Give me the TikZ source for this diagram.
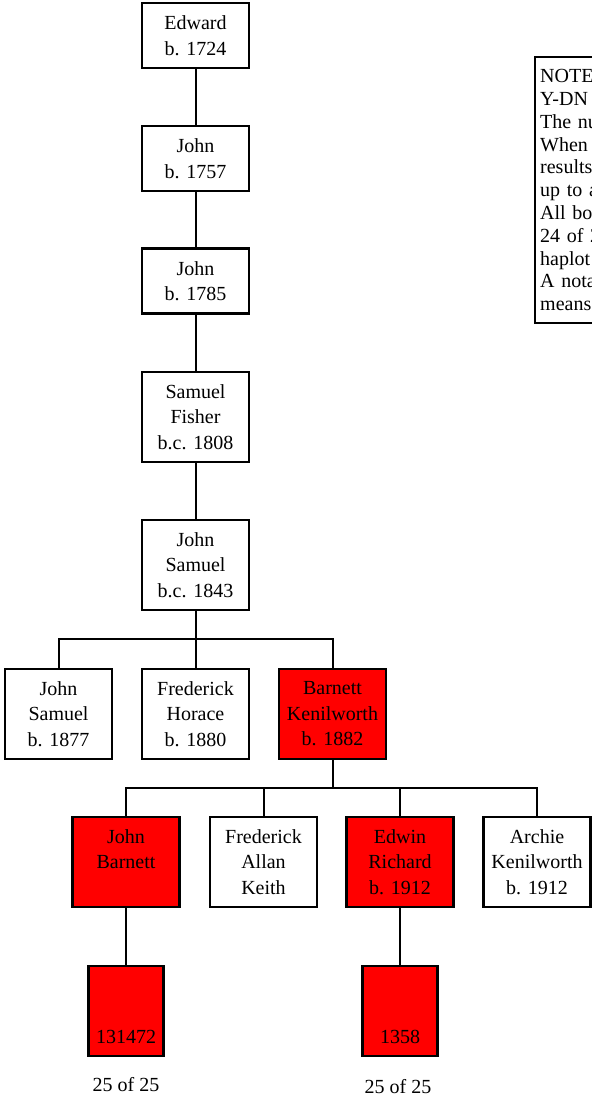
\documentclass[tikz,border=0pt]{standalone}
\usepackage{fontspec}
\setmainfont{Liberation Serif}

\tikzset{
    person/.style={draw, line width=1.2pt, align=center, inner sep=0pt,
        minimum width=53.5pt, font=\fontsize{10}{12.75}\selectfont},
    short/.style={person, minimum height=32.5pt},
    tall/.style={person, minimum height=45pt},
    tested/.style={fill=red},
    kit/.style={tall, tested, minimum width=37.5pt},
    match/.style={anchor=base, inner sep=0pt, font=\fontsize{10}{12}\selectfont},
    notebox/.style={draw, line width=1.2pt, anchor=north west, align=left,
        text width=140pt, minimum height=133pt, inner sep=2.5pt,
        font=\fontsize{10}{11.4}\selectfont},
    link/.style={line width=1pt},
}
\newcommand{\blankline}{\phantom{b. 1912}}

\begin{document}
\begin{tikzpicture}[x=0.5pt, y=-0.5pt]

        \useasboundingbox (0,0) rectangle (592,1097);

            % direct line
            \node[short] (edward) at (195.5,35.5) {Edward\\b. 1724};
            \node[short] (john1) at (195.5,158.5) {John\\b. 1757};
            \node[short] (john2) at (195.5,281) {John\\b. 1785};
            \node[tall] (samuel) at (195.5,417) {Samuel\\Fisher\\b.c. 1808};
            \node[tall] (jsamuel) at (195.5,565) {John\\Samuel\\b.c. 1843};

            % sons
            \node[tall] (jsamuel2) at (58.5,714) {John\\Samuel\\b. 1877};
            \node[tall] (frederick) at (195.5,714) {Frederick\\Horace\\b. 1880};
            \node[tall, tested] (barnett) at (332.5,714) {Barnett\\Kenilworth\\b. 1882};

            % grandsons
            \node[tall, tested] (jbarnett) at (126,862) {John\\Barnett\\\blankline};
            \node[tall] (fallan) at (263.5,862) {Frederick\\Allan\\Keith};
            \node[tall, tested] (edwin) at (400,862) {Edwin\\Richard\\b. 1912};
            \node[tall] (archie) at (537,862) {Archie\\Kenilworth\\b. 1912};

            % kits
            \node[kit] (kitA) at (126,1011) {\blankline\\\blankline\\131472};
            \node[kit] (kitB) at (400,1011) {\blankline\\\blankline\\1358};
            \node[match] (matchA) at (126,1091) {25 of 25};
            \node[match] (matchB) at (398,1093) {25 of 25};

            \node[notebox] (note) at (534,56) {NOTE\\Y-DN\\The nu\\When\\results\\up to a\\All bo\\24 of 2\\haplot\\A nota\\means};

            \coordinate (fork1) at (195.5,639);
            \coordinate (fork2) at (332.5,788);

            \foreach \a/\b in {edward/john1, john1/john2, john2/samuel, samuel/jsamuel}
                \draw[link] (\a) -- (\b);

            \draw[link] (jsamuel) -- (fork1);
            \draw[link] (jsamuel2.north) |- (fork1) -| (barnett.north);
            \draw[link] (frederick) -- (fork1);

            \draw[link] (barnett) -- (fork2);
            \draw[link] (jbarnett.north) |- (fork2) -| (archie.north);
            \draw[link] (fallan.north) |- (fork2);
            \draw[link] (edwin.north) |- (fork2);

            \draw[link] (jbarnett) -- (kitA);
            \draw[link] (edwin) -- (kitB);

        \end{tikzpicture}
\end{document}
